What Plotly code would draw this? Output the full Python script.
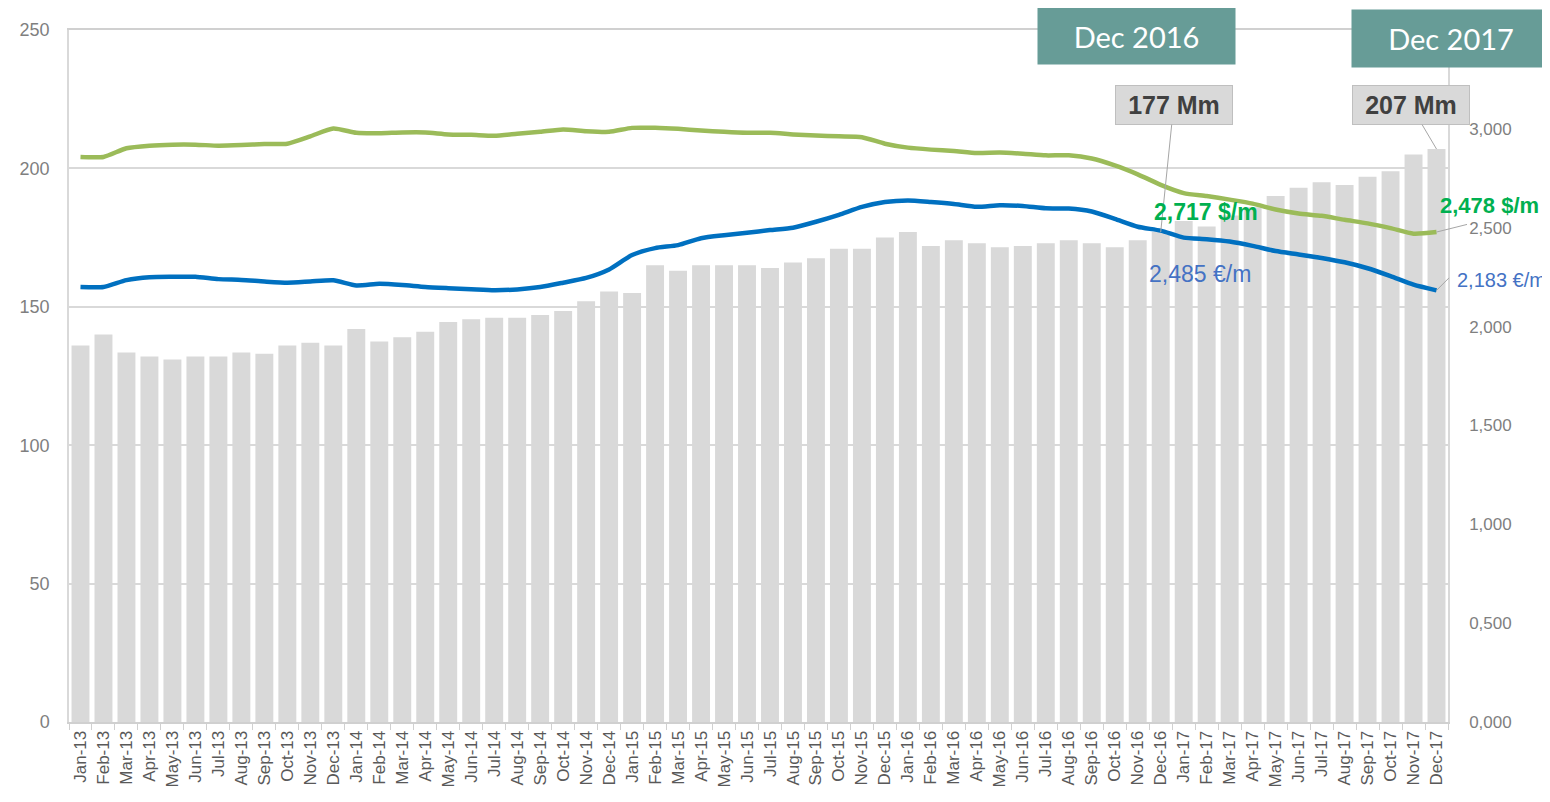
import plotly.graph_objects as go

months = ["Jan-13","Feb-13","Mar-13","Apr-13","May-13","Jun-13","Jul-13","Aug-13","Sep-13","Oct-13","Nov-13","Dec-13",
          "Jan-14","Feb-14","Mar-14","Apr-14","May-14","Jun-14","Jul-14","Aug-14","Sep-14","Oct-14","Nov-14","Dec-14",
          "Jan-15","Feb-15","Mar-15","Apr-15","May-15","Jun-15","Jul-15","Aug-15","Sep-15","Oct-15","Nov-15","Dec-15",
          "Jan-16","Feb-16","Mar-16","Apr-16","May-16","Jun-16","Jul-16","Aug-16","Sep-16","Oct-16","Nov-16","Dec-16",
          "Jan-17","Feb-17","Mar-17","Apr-17","May-17","Jun-17","Jul-17","Aug-17","Sep-17","Oct-17","Nov-17","Dec-17"]

volume_mm = [136,140,133.5,132,131,132,132,133.5,133,136,137,136,
             142,137.5,139,141,144.5,145.5,146,146,147,148.5,152,155.5,
             155,165,163,165,165,165,164,166,167.5,171,171,175,
             177,172,174,173,171.5,172,173,174,173,171.5,174,177,
             181,179,183,186,190,193,195,194,197,199,205,207]

price_usd = [2858,2858,2902,2915,2920,2920,2915,2918,2923,2925,2962,3002,
             2980,2978,2982,2982,2972,2970,2965,2975,2985,2997,2988,2985,
             3005,3005,3000,2992,2985,2980,2980,2972,2966,2962,2958,2925,
             2905,2895,2888,2878,2880,2874,2866,2866,2850,2815,2770,2717,
             2675,2660,2642,2622,2592,2572,2560,2540,2522,2498,2470,2478]

price_eur = [2200,2200,2235,2250,2252,2252,2240,2236,2228,2222,2228,2234,
             2208,2216,2210,2200,2194,2189,2184,2188,2200,2222,2246,2289,
             2362,2397,2412,2447,2462,2474,2488,2500,2530,2565,2605,2630,
             2638,2630,2620,2606,2614,2610,2598,2597,2582,2545,2505,2485,
             2450,2442,2430,2408,2382,2365,2347,2325,2295,2255,2212,2183]

left_ticks = [0, 50, 100, 150, 200, 250]
right_tickvals = [0, 500, 1000, 1500, 2000, 2500, 3000]
right_ticktext = ["0,000", "0,500", "1,000", "1,500", "2,000", "2,500", "3,000"]

GRID = "#d9d9d9"
TICKC = "#7f7f7f"
FONT = "Liberation Sans, Arial, sans-serif"

fig = go.Figure()
fig.add_trace(go.Bar(x=months, y=volume_mm, marker=dict(color="#d9d9d9", line=dict(width=0)),
                     yaxis="y", hoverinfo="skip"))
fig.add_trace(go.Scatter(x=months, y=price_eur, mode="lines", yaxis="y2",
                         line=dict(color="#0070c0", width=4.5, shape="spline", smoothing=0.6)))
fig.add_trace(go.Scatter(x=months, y=price_usd, mode="lines", yaxis="y2",
                         line=dict(color="#9bbb59", width=4.5, shape="spline", smoothing=0.6)))

annotations = [
    # headline boxes
    dict(xref="paper", yref="paper", x=0.7738, y=0.9914, text="Dec 2016", showarrow=False,
         xanchor="center", yanchor="middle", width=197, height=56, borderpad=0,
         bgcolor="#679c97", font=dict(family="Lato, Open Sans, sans-serif", size=29, color="white")),
    dict(xref="paper", yref="paper", x=1.0022, y=0.9878, text="Dec 2017", showarrow=False,
         xanchor="center", yanchor="middle", width=198, height=57, borderpad=0,
         bgcolor="#679c97", font=dict(family="Lato, Open Sans, sans-serif", size=29, color="white")),
    # volume callouts
    dict(xref="x", yref="y", x="Dec-16", y=volume_mm[47], text="<b>177 Mm</b>", showarrow=True,
         ax=13, ay=-127, arrowhead=0, arrowwidth=1, arrowcolor="#a6a6a6",
         bgcolor="#d9d9d9", bordercolor="#bfbfbf", borderwidth=1, borderpad=4, width=108, height=30,
         font=dict(family=FONT, size=25, color="#404040")),
    dict(xref="x", yref="y", x="Dec-17", y=volume_mm[59], text="<b>207 Mm</b>", showarrow=True,
         ax=-26, ay=-44, arrowhead=0, arrowwidth=1, arrowcolor="#a6a6a6",
         bgcolor="#d9d9d9", bordercolor="#bfbfbf", borderwidth=1, borderpad=4, width=108, height=30,
         font=dict(family=FONT, size=25, color="#404040")),
    # price labels
    dict(xref="x", yref="y2", x="Dec-16", y=price_usd[47], text="<b>2,717 $/m</b>", showarrow=False,
         xanchor="left", yanchor="middle", xshift=-9, yshift=-27,
         font=dict(family=FONT, size=23, color="#00b050")),
    dict(xref="x", yref="y2", x="Dec-16", y=price_eur[47], text="2,485 €/m", showarrow=False,
         xanchor="left", yanchor="middle", xshift=-14, yshift=-43,
         font=dict(family=FONT, size=23, color="#4472c4")),
    dict(xref="x", yref="y2", x="Dec-17", y=price_usd[59], text="<b>2,478 $/m</b>", showarrow=False,
         xanchor="left", yanchor="middle", xshift=1, yshift=27,
         font=dict(family=FONT, size=22, color="#00b050")),
    dict(xref="x", yref="y2", x="Dec-17", y=price_eur[59], text="2,183 €/m", showarrow=False,
         xanchor="left", yanchor="middle", xshift=18, yshift=10,
         font=dict(family=FONT, size=20, color="#4472c4")),
    # small leader lines
    dict(xref="x", yref="y2", x="Dec-17", y=price_usd[59], text="", showarrow=True,
         ax=32, ay=-8, arrowhead=0, arrowwidth=1, arrowcolor="#a6a6a6"),
    dict(xref="x", yref="y2", x="Dec-17", y=price_eur[59], text="", showarrow=True,
         ax=14, ay=-14, arrowhead=0, arrowwidth=1, arrowcolor="#a6a6a6"),
]

fig.update_layout(
    width=1542, height=794,
    margin=dict(l=54, r=102, t=20, b=80),
    paper_bgcolor="white", plot_bgcolor="white",
    showlegend=False, bargap=0.22,
    font=dict(family=FONT),
    xaxis=dict(type="category", range=[-0.5, len(months) - 0.5], autorange=False,
               tickangle=-90, tickfont=dict(size=17, color="#595959"),
               showline=True, mirror=True, linecolor="#d0d0d0", linewidth=2,
               ticks="outside", tickson="boundaries", ticklen=6, tickcolor="#d0d0d0",
               showgrid=False, zeroline=False),
    yaxis=dict(range=[0, 250], autorange=False, tickvals=left_ticks, gridcolor=GRID, gridwidth=1.5,
               showline=True, linecolor=GRID, linewidth=1.5, zeroline=False,
               tickfont=dict(size=18, color=TICKC), ticklabelstandoff=14),
    yaxis2=dict(range=[0, 3500], autorange=False, overlaying="y", side="right", tickvals=right_tickvals,
                ticktext=right_ticktext, showgrid=False, showline=True, linecolor=GRID, linewidth=1.5,
                zeroline=False, tickfont=dict(size=17, color=TICKC), ticklabelstandoff=16),
    annotations=annotations,
)

fig.write_html("out.html")
